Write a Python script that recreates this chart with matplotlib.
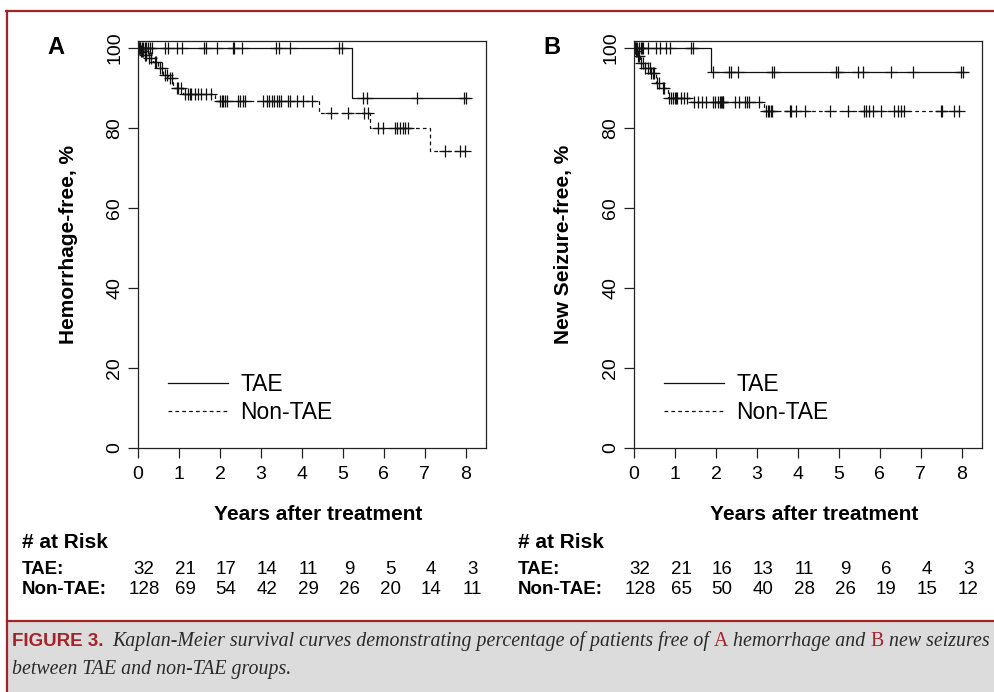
import numpy as np
import matplotlib
matplotlib.use('Agg')
import matplotlib.pyplot as plt
from matplotlib.transforms import blended_transform_factory
from matplotlib.patches import Rectangle
from matplotlib.lines import Line2D

# ---------------- data ----------------
years = [0, 1, 2, 3, 4, 5, 6, 7, 8]
y_ticks = [0, 20, 40, 60, 80, 100]

# Panel A: hemorrhage-free
A_tae_t = [0, 5.23]
A_tae_s = [100, 87.5]
A_tae_cens = [0.02, 0.04, 0.06, 0.09, 0.12, 0.16, 0.20, 0.25, 0.30, 0.35, 0.66, 0.74,
              0.94, 1.07, 1.61, 1.66, 1.93, 2.31, 2.35, 2.53, 3.36, 3.44, 3.72, 4.91,
              4.98, 5.50, 5.59, 6.80, 7.96, 8.00]
A_non_t = [0, 0.06, 0.14, 0.25, 0.37, 0.50, 0.62, 0.72, 0.86, 1.10, 1.88, 4.41, 5.66, 7.12]
A_non_s = [100, 99.2, 98.3, 97.4, 96.6, 94.9, 93.3, 92.4, 89.9, 88.4, 86.8, 83.7, 79.9, 74.3]
A_non_cens = [0.03, 0.07, 0.10, 0.12, 0.17, 0.20, 0.28, 0.32, 0.41, 0.45, 0.53, 0.58,
              0.66, 0.70, 0.78, 0.82, 0.94, 0.98, 1.06, 1.14, 1.22, 1.26, 1.30, 1.38,
              1.46, 1.54, 1.67, 1.79, 2.00, 2.05, 2.08, 2.12, 2.16, 2.45, 2.50, 2.57,
              2.61, 3.06, 3.14, 3.20, 3.26, 3.33, 3.38, 3.45, 3.50, 3.67, 3.70, 3.87,
              4.03, 4.24, 4.72, 5.13, 5.52, 5.60, 5.86, 5.98, 6.27, 6.33, 6.39, 6.46,
              6.52, 6.59, 7.49, 7.85, 7.97]
A_risk_tae = [32, 21, 17, 14, 11, 9, 5, 4, 3]
A_risk_non = [128, 69, 54, 42, 29, 26, 20, 14, 11]

# Panel B: new seizure-free
B_tae_t = [0, 1.88]
B_tae_s = [100, 94.1]
B_tae_cens = [0.02, 0.05, 0.08, 0.12, 0.16, 0.20, 0.23, 0.35, 0.54, 0.63, 0.78, 0.87,
              1.40, 1.45, 1.93, 2.32, 2.37, 2.54, 3.36, 3.42, 4.92, 4.97, 5.47, 5.59,
              6.28, 6.81, 7.98, 8.02]
B_non_t = [0, 0.04, 0.10, 0.15, 0.26, 0.42, 0.54, 0.62, 0.83, 1.40, 3.18]
B_non_s = [100, 99.2, 98.0, 96.2, 94.9, 93.7, 91.2, 89.9, 87.6, 86.4, 84.3]
B_non_cens = [0.02, 0.05, 0.07, 0.10, 0.12, 0.18, 0.22, 0.28, 0.33, 0.38, 0.42, 0.46,
              0.50, 0.55, 0.60, 0.70, 0.72, 0.85, 0.90, 0.96, 0.99, 1.02, 1.06, 1.14,
              1.22, 1.30, 1.47, 1.55, 1.66, 1.76, 1.93, 1.97, 2.04, 2.10, 2.12, 2.14,
              2.16, 2.18, 2.47, 2.57, 2.70, 2.76, 2.81, 3.04, 3.22, 3.26, 3.30, 3.34,
              3.37, 3.80, 3.82, 3.96, 4.16, 4.79, 5.21, 5.62, 5.66, 5.74, 5.82, 6.02,
              6.35, 6.43, 6.51, 6.59, 7.48, 7.52, 7.81, 7.93]
B_risk_tae = [32, 21, 16, 13, 11, 9, 6, 4, 3]
B_risk_non = [128, 65, 50, 40, 28, 26, 19, 15, 12]

panels = [
    dict(letter='A', ylabel='Hemorrhage-free, %', tae=(A_tae_t, A_tae_s, A_tae_cens),
         non=(A_non_t, A_non_s, A_non_cens), risk=(A_risk_tae, A_risk_non), left=138),
    dict(letter='B', ylabel='New Seizure-free, %', tae=(B_tae_t, B_tae_s, B_tae_cens),
         non=(B_non_t, B_non_s, B_non_cens), risk=(B_risk_tae, B_risk_non), left=634),
]

# ---------------- figure ----------------
W, H = 994, 692
plt.rcParams['font.family'] = ['Liberation Sans', 'DejaVu Sans']
fig = plt.figure(figsize=(W / 100, H / 100), dpi=100)
fig.patch.set_facecolor('white')


def fx(px):
    return px / W


def fy(py):
    return 1 - py / H


RED = '#a3232b'
INK = '#111111'

# caption background and red frame lines
fig.add_artist(Rectangle((fx(8), 0), 1, fy(621), transform=fig.transFigure,
                         facecolor='#dcdcdc', edgecolor='none', zorder=0))
for xs, ys in [([fx(7), fx(7)], [0, fy(10.5)]),
               ([fx(6), 1], [fy(11), fy(11)]),
               ([fx(7), 1], [fy(620.5), fy(620.5)])]:
    fig.add_artist(Line2D(xs, ys, transform=fig.transFigure, color=RED, lw=1.6, zorder=1))


def km_curve(ax, t, s, cens, ls, label):
    t = np.asarray(t, float)
    s = np.asarray(s, float)
    c = np.asarray(cens, float)
    tend = max(t.max(), c.max())
    tt = np.append(t, tend)
    ss = np.append(s, s[-1])
    ax.step(tt, ss, where='post', color=INK, lw=0.9, ls=ls, label=label)
    idx = np.searchsorted(t, c, side='right') - 1
    ax.plot(c, s[idx], ls='none', marker='+', ms=8, mew=0.9, color=INK)


for p in panels:
    L = p['left']
    ax = fig.add_axes([fx(L), fy(448), 348 / W, 407 / H])
    km_curve(ax, *p['tae'], ls='-', label='TAE')
    km_curve(ax, *p['non'], ls=(0, (3, 2.5)), label='Non-TAE')
    ax.set_xlim(0, 8.49)
    ax.set_ylim(0, 101.75)
    ax.set_xticks(years)
    ax.set_yticks(y_ticks)
    for sp in ax.spines.values():
        sp.set_linewidth(0.9)
        sp.set_color('#222222')
    ax.tick_params(direction='out', length=7, width=0.9, labelsize=14, color='#222222')
    ax.tick_params(axis='x', pad=6)
    ax.tick_params(axis='y', pad=3.5, labelrotation=90)
    for lab in ax.get_yticklabels():
        lab.set_va('center')
    leg = ax.legend(loc='center left', bbox_to_anchor=(0.086, 0.122), frameon=False,
                    fontsize=16.5, handlelength=2.6, handletextpad=0.55,
                    labelspacing=0.22, borderpad=0, borderaxespad=0)
    for h in leg.get_lines():
        h.set_linewidth(0.9)

    fig.text(fx(L - 82), fy(47), p['letter'], fontsize=17, fontweight='bold',
             ha='center', va='center')
    fig.text(fx(L - 70), fy(244), p['ylabel'], fontsize=15, fontweight='bold',
             rotation=90, ha='center', va='center')
    fig.text(fx(L + 180), fy(514), 'Years after treatment', fontsize=15,
             fontweight='bold', ha='center', va='center')

    # at-risk table
    tx = L - 116
    fig.text(fx(tx), fy(543), '# at Risk', fontsize=15, fontweight='bold',
             ha='left', va='center')
    fig.text(fx(tx), fy(570), 'TAE:', fontsize=13.5, fontweight='bold',
             ha='left', va='center')
    fig.text(fx(tx), fy(590), 'Non-TAE:', fontsize=13.5, fontweight='bold',
             ha='left', va='center')
    trans = blended_transform_factory(ax.transData, fig.transFigure)
    for yr, n1, n2 in zip(years, *p['risk']):
        ax.text(yr + 0.15, fy(570), str(n1), transform=trans, fontsize=13.5,
                ha='center', va='center', clip_on=False)
        ax.text(yr + 0.15, fy(590), str(n2), transform=trans, fontsize=13.5,
                ha='center', va='center', clip_on=False)

# ---------------- caption ----------------
renderer = fig.canvas.get_renderer()

SANS_B = dict(family=['Liberation Sans Narrow', 'Liberation Sans', 'DejaVu Sans'],
              fontweight='bold', color=RED)
SERIF_I = dict(family=['Liberation Serif', 'DejaVu Serif'], style='italic', color='#2a2a2a')
SERIF_R = dict(family=['Liberation Serif', 'DejaVu Serif'], color=RED)


def width_of(s, size, props):
    t = fig.text(0, 0, s, fontsize=size, **props)
    w = t.get_window_extent(renderer).width
    t.remove()
    return w


def space_of(size, props):
    return width_of('x x', size, props) - width_of('xx', size, props)


def draw_runs(runs, x0, ybase, size):
    x = x0
    for i, (s, props) in enumerate(runs):
        if i > 0:
            x += space_of(size, props)
        fig.text(fx(x), fy(ybase), s, fontsize=size, ha='left', va='baseline', **props)
        x += width_of(s, size, props)
    return x


line1 = [('Kaplan-Meier survival curves demonstrating percentage of patients free of', SERIF_I),
         ('A', SERIF_R), ('hemorrhage and', SERIF_I), ('B', SERIF_R), ('new seizures', SERIF_I)]
line2 = [('between TAE and non-TAE groups.', SERIF_I)]

# fit label "FIGURE 3." to its width in the reference
fs_fig = 13 * 92 / width_of('FIGURE 3.', 13, SANS_B)
fig.text(fx(12), fy(646), 'FIGURE 3.', fontsize=fs_fig, ha='left', va='baseline', **SANS_B)


def line_width(runs, size):
    w = 0
    for i, (s, props) in enumerate(runs):
        if i > 0:
            w += space_of(size, props)
        w += width_of(s, size, props)
    return w


fs_cap = 13 * (986 - 112) / line_width(line1, 13)
draw_runs(line1, 112, 646, fs_cap)
draw_runs(line2, 12, 674, fs_cap)

fig.savefig('out.png', dpi=100, facecolor='white')
